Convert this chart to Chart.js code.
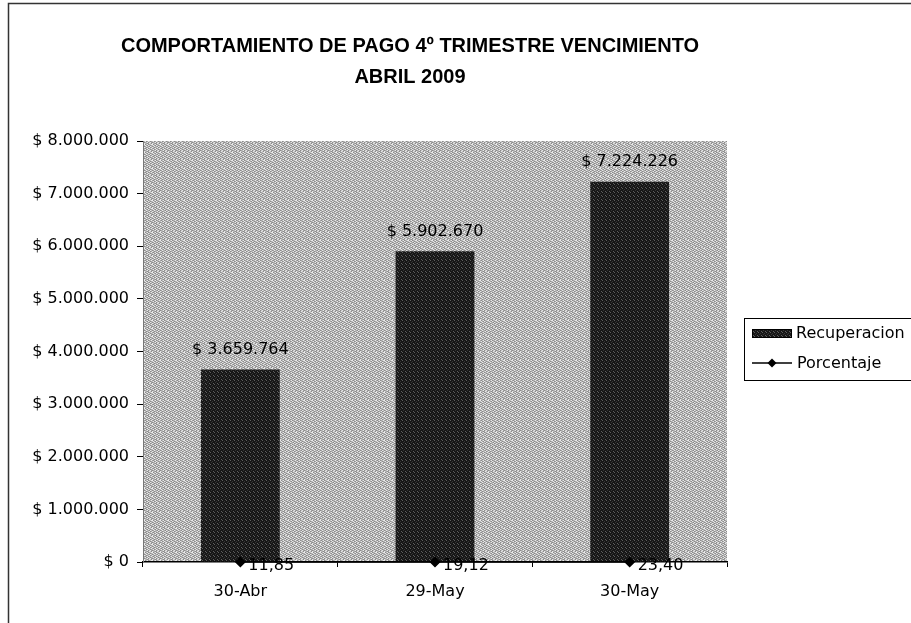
<!DOCTYPE html>
<html>
<head>
<meta charset="utf-8">
<script src="https://cdn.jsdelivr.net/npm/chart.js@4"></script>
<style>
  html, body { margin: 0; padding: 0; background: #fff; }
  #wrap { position: relative; width: 911px; height: 623px; }
</style>
</head>
<body>
<div id="wrap"><canvas id="c" width="911" height="623"></canvas></div>
<script>
const categories = ['30-Abr', '29-May', '30-May'];
const recuperacion = [3659764, 5902670, 7224226];
const porcentaje = [11.85, 19.12, 23.40];
const titleLines = ['COMPORTAMIENTO DE PAGO 4º TRIMESTRE VENCIMIENTO', 'ABRIL 2009'];
const seriesNames = ['Recuperacion', 'Porcentaje'];
const yMin = 0, yMax = 8000000, yStep = 1000000;

const FONT = '"DejaVu Sans", sans-serif';

function fmtMoney(v) {
  return '$ ' + Math.round(v).toString().replace(/\B(?=(\d{3})+(?!\d))/g, '.');
}
function fmtPct(v) {
  return v.toFixed(2).replace('.', ',');
}

// texture tiles (fixed pixel maps, not data)
function makeTile(rows, palette) {
  const h = rows.length, w = rows[0].length;
  const c = document.createElement('canvas');
  c.width = w; c.height = h;
  const x = c.getContext('2d');
  for (let j = 0; j < h; j++) for (let i = 0; i < w; i++) {
    x.fillStyle = palette[rows[j][i]];
    x.fillRect(i, j, 1, 1);
  }
  return x.createPattern(c, 'repeat');
}
const bgPattern = makeTile([
  'abcabdca',
  'cadbacbd',
  'bdacdbac',
  'acbdcabd',
  'dbcabdca',
  'cabdacbd',
  'bdcabcad',
  'acdbdacb'
], { a: '#e8e8e8', b: '#8c8c8c', c: '#c0c0c0', d: '#a4a4a4' });
const barPattern = makeTile([
  'aaba',
  'caaa',
  'aaac',
  'abaa'
], { a: '#171717', b: '#5e5e5e', c: '#363636' });

const decor = {
  id: 'decor',
  beforeDraw(chart) {
    const c = chart.ctx, a = chart.chartArea;
    c.save();
    c.fillStyle = '#fff';
    c.fillRect(0, 0, chart.width, chart.height);
    c.fillStyle = bgPattern;
    c.fillRect(a.left, a.top, a.right - a.left, a.bottom - a.top);
    c.strokeStyle = '#333';
    c.lineWidth = 1.5;
    c.beginPath();
    c.moveTo(8.5, chart.height); c.lineTo(8.5, 3.5); c.lineTo(chart.width, 3.5);
    c.stroke();
    c.fillStyle = '#000';
    c.font = 'bold 20px "Liberation Sans", Arial, sans-serif';
    c.textAlign = 'center';
    c.textBaseline = 'middle';
    c.fillText(titleLines[0], 410, 46);
    c.fillText(titleLines[1], 410, 77);
    c.restore();
  },
  afterDraw(chart) {
    const c = chart.ctx;
    c.save();
    c.font = '16px ' + FONT;
    c.fillStyle = '#000';
    const m0 = chart.getDatasetMeta(0);
    c.textAlign = 'center';
    c.textBaseline = 'middle';
    m0.data.forEach((el, i) => {
      c.fillText(fmtMoney(recuperacion[i]), el.x, el.y - 20);
    });
    const m1 = chart.getDatasetMeta(1);
    c.textAlign = 'left';
    m1.data.forEach((el, i) => {
      c.fillText(fmtPct(porcentaje[i]), el.x + 8, el.y + 4);
    });
    // legend
    c.strokeStyle = '#000';
    c.lineWidth = 1;
    c.strokeRect(744.5, 318.5, 180, 62);
    c.fillStyle = barPattern;
    c.fillRect(752, 329, 40, 9);
    c.strokeRect(752.5, 329.5, 39, 8);
    c.fillStyle = '#000';
    c.textBaseline = 'middle';
    c.fillText(seriesNames[0], 796, 334);
    c.lineWidth = 1.5;
    c.beginPath(); c.moveTo(752, 363); c.lineTo(792, 363); c.stroke();
    c.beginPath();
    c.moveTo(772, 358.5); c.lineTo(776.5, 363); c.lineTo(772, 367.5); c.lineTo(767.5, 363); c.closePath();
    c.fill();
    c.fillText(seriesNames[1], 797, 364);
    c.restore();
  }
};

new Chart(document.getElementById('c'), {
  type: 'bar',
  data: {
    labels: categories,
    datasets: [
      {
        type: 'bar',
        label: seriesNames[0],
        data: recuperacion,
        backgroundColor: barPattern,
        borderColor: '#000',
        borderWidth: 0,
        categoryPercentage: 1.0,
        barPercentage: 0.405,
        order: 1
      },
      {
        type: 'line',
        label: seriesNames[1],
        data: porcentaje,
        borderColor: '#000',
        backgroundColor: '#000',
        borderWidth: 1.5,
        pointStyle: 'rectRot',
        pointRadius: 4.5,
        pointBackgroundColor: '#000',
        pointBorderColor: '#000',
        clip: false,
        order: 0
      }
    ]
  },
  options: {
    responsive: false,
    animation: false,
    devicePixelRatio: 1,
    layout: { padding: { top: 141, right: 184, bottom: 0, left: 0 } },
    plugins: {
      legend: { display: false },
      title: { display: false },
      tooltip: { enabled: false }
    },
    scales: {
      x: {
        afterFit(s) { s.height = 61; },
        grid: { display: true, drawOnChartArea: false, drawTicks: true, tickLength: 5, color: '#000', offset: true },
        border: { display: true, color: '#000', width: 1.5 },
        ticks: { color: '#000', font: { family: FONT, size: 16 }, padding: 15, maxRotation: 0 }
      },
      y: {
        min: yMin, max: yMax,
        afterFit(s) { s.width = 143; },
        grid: { display: true, drawOnChartArea: false, drawTicks: true, tickLength: 6, color: '#000' },
        border: { display: true, color: '#777', width: 1 },
        ticks: {
          stepSize: yStep, color: '#000', padding: 8,
          font: { family: FONT, size: 16 },
          callback: v => fmtMoney(v)
        }
      }
    }
  },
  plugins: [decor]
});
</script>
</body>
</html>
